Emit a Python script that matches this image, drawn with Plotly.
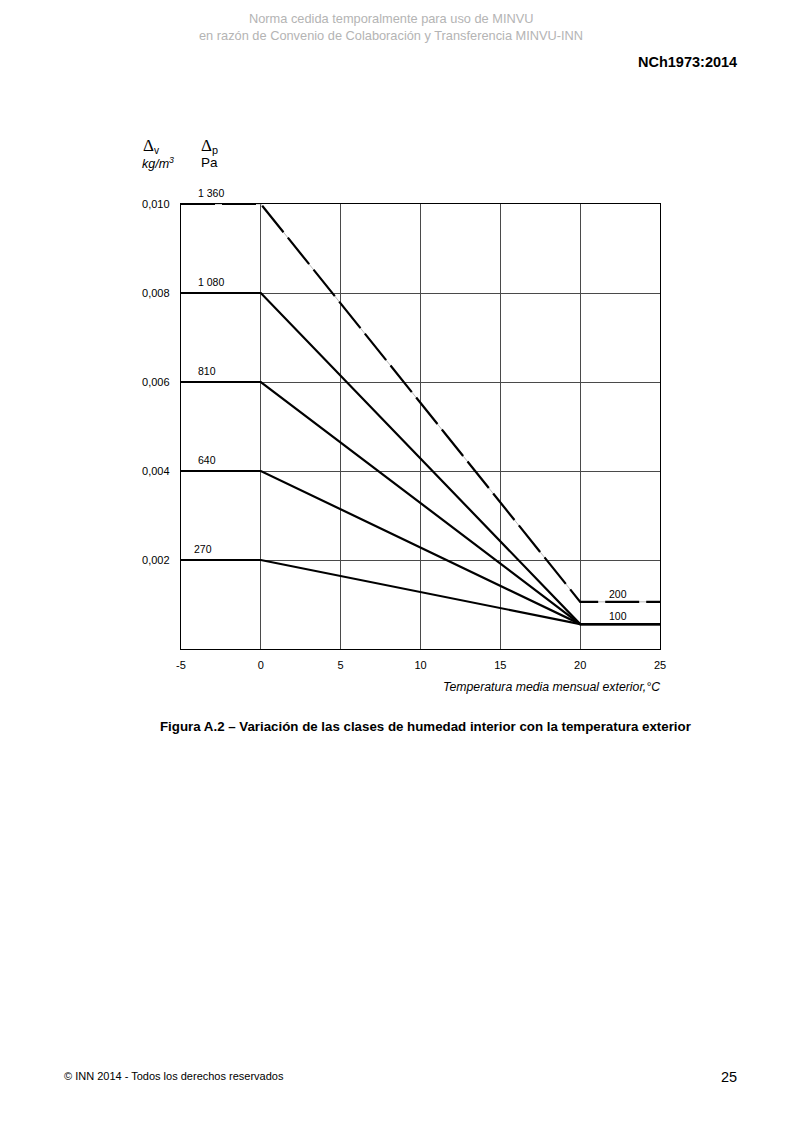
import plotly.graph_objects as go

# temperature breakpoints (deg C)
temp = [-5, 0, 20, 25]

# humidity classes: winter vapour excess (kg/m3) and pressure labels (Pa)
dv_winter = [0.002, 0.004, 0.006, 0.008, 0.010]
dv_summer = [0.00056, 0.00056, 0.00056, 0.00056, 0.00106]
dp_winter = ["270", "640", "810", "1 080", "1 360"]
dp_summer = ["100", "100", "100", "100", "200"]
label_x = [-4.3, -4.05, -4.05, -4.05, -4.05]
dashed = [False, False, False, False, True]

xticks = [-5, 0, 5, 10, 15, 20, 25]
xtick_text = ["-5", "0", "5", "10", "15", "20", "25"]
yticks = [0.002, 0.004, 0.006, 0.008, 0.010]
ytick_text = ["0,002", "0,004", "0,006", "0,008", "0,010"]

FONT = "Liberation Sans, Arial, sans-serif"

# the page body has an 8px margin in the browser
OFF = 8
# plot area in page pixels
L, R, T, B = 181, 660, 204, 649


def px(X):
    return (X - L) / (R - L)


def py(Y):
    return (B - Y) / (B - T)


fig = go.Figure()

for i in range(len(dv_winter)):
    ys = [dv_winter[i], dv_winter[i], dv_summer[i], dv_summer[i]]
    if dashed[i]:
        # thin grey line showing through the gaps
        fig.add_trace(go.Scatter(x=temp, y=ys, mode="lines",
                                 line=dict(color="#a8a8a8", width=0.8),
                                 hoverinfo="skip"))
        fig.add_trace(go.Scatter(x=temp, y=ys, mode="lines",
                                 line=dict(color="black", width=2.2, dash="34px,7px")))
    else:
        fig.add_trace(go.Scatter(x=temp, y=ys, mode="lines",
                                 line=dict(color="black", width=2.2)))

annotations = []
for i in range(len(dv_winter)):
    annotations.append(dict(x=label_x[i], y=dv_winter[i], text=dp_winter[i],
                            showarrow=False, xanchor="left", yanchor="bottom",
                            yshift=3, font=dict(size=10.5, color="black")))
# summer labels (only distinct ones)
for val, txt in [(dv_summer[0], dp_summer[0]), (dv_summer[4], dp_summer[4])]:
    annotations.append(dict(x=22.35, y=val, text=txt, showarrow=False,
                            xanchor="center", yanchor="bottom", yshift=0,
                            font=dict(size=10.5, color="black")))

DELTA = "<span style='font-family:Liberation Serif, Times New Roman, serif;font-size:17px'>Δ</span>"

# page texts
page = [
    (391, 18, "Norma cedida temporalmente para uso de MINVU", "center", 12.8, "#b4b4b4"),
    (391, 36, "en razón de Convenio de Colaboración y Transferencia MINVU-INN", "center", 12.8, "#b4b4b4"),
    (739, 62, "<b>NCh1973:2014</b>", "right", 14.5, "black"),
    (151, 146, DELTA + "<sub>v</sub>", "center", 14.5, "black"),
    (158, 163, "<i>kg/m<sup>3</sup></i>", "center", 12.5, "black"),
    (209, 146, DELTA + "<sub>p</sub>", "center", 15.5, "black"),
    (209, 163, "Pa", "center", 13.5, "black"),
    (662, 687, "<i>Temperatura media mensual exterior,°C</i>", "right", 12.3, "black"),
    (425, 726, "<b>Figura A.2 – Variación de las clases de humedad interior con la temperatura exterior</b>", "center", 13.3, "black"),
    (62, 1076, "© INN 2014 - Todos los derechos reservados", "left", 11, "black"),
    (739, 1077, "25", "right", 14.5, "black"),
]
for X, Y, txt, anchor, size, color in page:
    annotations.append(dict(x=px(X), y=py(Y), xref="paper", yref="paper",
                            text=txt, showarrow=False, xanchor=anchor,
                            yanchor="middle", font=dict(size=size, color=color)))

fig.update_layout(
    width=800 - OFF, height=1131 - OFF,
    margin=dict(l=L - OFF, r=800 - R, t=T - OFF, b=1131 - B),
    paper_bgcolor="white", plot_bgcolor="white",
    showlegend=False,
    font=dict(family=FONT, color="black"),
    annotations=annotations,
)
fig.update_xaxes(range=[-5, 25], tickvals=xticks, ticktext=xtick_text, showgrid=True,
                 gridcolor="#4a4a4a", gridwidth=1, zeroline=False,
                 showline=True, linecolor="black", linewidth=1.4, mirror=True,
                 ticks="", ticklabelstandoff=6, tickfont=dict(size=11))
fig.update_yaxes(range=[0, 0.010], tickvals=yticks, ticktext=ytick_text,
                 showgrid=True, gridcolor="#4a4a4a", gridwidth=1, zeroline=False,
                 showline=True, linecolor="black", linewidth=1.4, mirror=True,
                 ticks="", ticklabelstandoff=8, tickfont=dict(size=11))

fig.write_html("out.html")
